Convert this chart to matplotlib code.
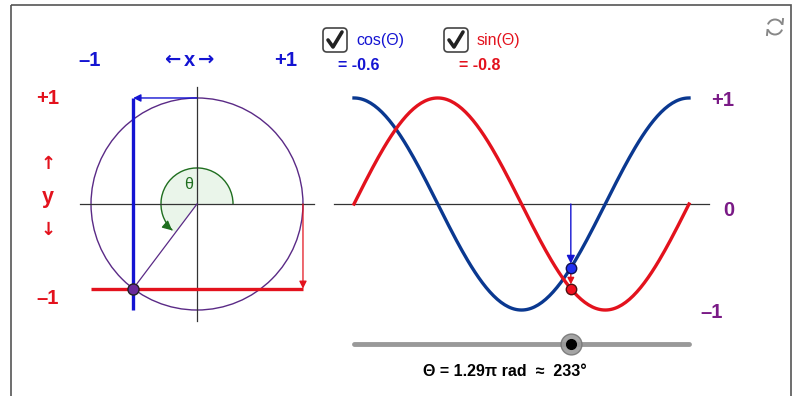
import numpy as np
import matplotlib
matplotlib.use("Agg")
import matplotlib.pyplot as plt
from matplotlib.patches import Circle, Wedge, Arc, FancyBboxPatch, Rectangle

plt.rcParams['font.family'] = ['Liberation Sans', 'DejaVu Sans']

# angle shown by the slider (degrees)
theta_deg = 233
# sample angles for the two curves, one full turn
curve_deg = np.arange(0, 361, 2)
cos_vals = np.cos(np.radians(curve_deg))
sin_vals = np.sin(np.radians(curve_deg))

c = np.cos(np.radians(theta_deg))
s = np.sin(np.radians(theta_deg))

# colours
BLUE = '#1414d2'
NAVY = '#0a3890'
RED = '#e3121d'
PURPLE = '#7a1a86'
CIRC = '#5a2a86'
GREEN = '#1f6e1f'

fig = plt.figure(figsize=(8, 3.96), dpi=100)

# background axes in pixel units (frame, checkboxes, labels)
bg = fig.add_axes([0, 0, 1, 1])
bg.set_xlim(0, 800)
bg.set_ylim(396, 0)
bg.axis('off')
bg.add_patch(Rectangle((11, 5), 780, 400, fill=False, edgecolor='#555555', lw=1.2))

# left: unit circle, 106 px per unit, centre at (197, 204)
ax1 = fig.add_axes([11/800, 0, 319/800, 391/396])
ax1.set_xlim(-1.755, 1.255)
ax1.set_ylim(-1.811, 1.877)
ax1.axis('off')
ax1.patch.set_alpha(0)

ext = 1.1
ax1.plot([-ext, ext], [0, 0], color='#333333', lw=0.9)
ax1.plot([0, 0], [-ext, ext], color='#333333', lw=0.9)
ax1.add_patch(Circle((0, 0), 1, fill=False, edgecolor=CIRC, lw=1.0))

# angle marker
r_arc = 0.34
ax1.add_patch(Wedge((0, 0), r_arc, 0, theta_deg, facecolor='#eaf5ea', edgecolor='none'))
ax1.add_patch(Arc((0, 0), 2*r_arc, 2*r_arc, theta1=0, theta2=theta_deg - 6, color=GREEN, lw=1.0))
a0 = np.radians(theta_deg - 14)
a1 = np.radians(theta_deg - 2)
ax1.annotate('', xy=(r_arc*np.cos(a1), r_arc*np.sin(a1)), xytext=(r_arc*np.cos(a0), r_arc*np.sin(a0)),
             arrowprops=dict(arrowstyle='-|>', color=GREEN, lw=1.0, mutation_scale=14,
                             connectionstyle='arc3,rad=0.12'))
ax1.text(-0.075, 0.18, 'θ', color=GREEN, fontsize=11.5, ha='center', va='center')

ax1.plot([0, c], [0, s], color=CIRC, lw=0.9)
ax1.plot([c, c], [-1, 1], color=BLUE, lw=2.4, solid_capstyle='butt')
ax1.annotate('', xy=(c, 1), xytext=(0, 1),
             arrowprops=dict(arrowstyle='-|>', color=BLUE, lw=1.0, mutation_scale=11, shrinkA=0, shrinkB=0))
ax1.plot([-1, 1], [s, s], color=RED, lw=2.4, solid_capstyle='butt')
ax1.annotate('', xy=(1, s), xytext=(1, 0),
             arrowprops=dict(arrowstyle='-|>', color=RED, lw=0.9, mutation_scale=11, shrinkA=0, shrinkB=0))
ax1.plot([c], [s], 'o', color='#6a2a9a', markeredgecolor='#222222', markersize=8, zorder=5)

# right: curves, x in degrees
ax2 = fig.add_axes([330/800, 0, 461/800, 391/396])
ax2.set_xlim(-25.79, 469.6)
ax2.set_ylim(-1.811, 1.877)
ax2.axis('off')
ax2.patch.set_alpha(0)

ax2.plot([-21.5, 382], [0, 0], color='#333333', lw=0.9)
ax2.plot(curve_deg, cos_vals, color=NAVY, lw=2.4)
ax2.plot(curve_deg, sin_vals, color=RED, lw=2.4)
ax2.annotate('', xy=(theta_deg, c), xytext=(theta_deg, 0),
             arrowprops=dict(arrowstyle='-|>', color=BLUE, lw=1.0, mutation_scale=12, shrinkA=0, shrinkB=3))
ax2.annotate('', xy=(theta_deg, s), xytext=(theta_deg, c),
             arrowprops=dict(arrowstyle='-|>', color=RED, lw=1.0, mutation_scale=10, shrinkA=3, shrinkB=3))
ax2.plot([theta_deg], [c], 'o', color='#2030f0', markeredgecolor='#101050', markersize=7.5, zorder=5)
ax2.plot([theta_deg], [s], 'o', color='#f01020', markeredgecolor='#501010', markersize=7.5, zorder=5)

# slider
slider_y = -1.321
ax2.plot([0, 360], [slider_y, slider_y], color='#999999', lw=3.5, solid_capstyle='round')
ax2.plot([theta_deg], [slider_y], 'o', color='#9a9a9a', markeredgecolor='#777777', markersize=15, alpha=0.9)
ax2.plot([theta_deg], [slider_y], 'o', color='black', markersize=7)

# labels (pixel positions)
bold = dict(fontweight='bold', ha='center', va='center')
arrows = dict(family=['DejaVu Sans'], fontweight='bold', ha='center', va='center')
bg.text(90, 60, '–1', color=BLUE, fontsize=14.5, **bold)
bg.text(189, 60, 'x', color=BLUE, fontsize=14.5, **bold)
bg.text(172, 59, '←', color=BLUE, fontsize=14, **arrows)
bg.text(206, 59, '→', color=BLUE, fontsize=14, **arrows)
bg.text(286, 60, '+1', color=BLUE, fontsize=14.5, **bold)
bg.text(48, 99, '+1', color=RED, fontsize=14.5, **bold)
bg.text(48, 164, '↑', color=RED, fontsize=13, **arrows)
bg.text(48, 198, 'y', color=RED, fontsize=15.5, **bold)
bg.text(48, 230, '↓', color=RED, fontsize=13, **arrows)
bg.text(48, 298, '–1', color=RED, fontsize=14.5, **bold)

bg.text(723, 100, '+1', color=PURPLE, fontsize=14.5, **bold)
bg.text(729, 211, '0', color=PURPLE, fontsize=14.5, **bold)
bg.text(712, 312, '–1', color=PURPLE, fontsize=14.5, **bold)

bg.text(505, 372, 'Θ = %.2fπ rad  ≈  %d°' % (theta_deg / 180, theta_deg),
        color='black', fontsize=11.5, **bold)

# checkboxes
for bx, label, col, vx, val in [(323, 'cos(Θ)', BLUE, 359, c), (444, 'sin(Θ)', RED, 480, s)]:
    bg.add_patch(FancyBboxPatch((bx, 28), 24, 24, boxstyle='round,pad=0,rounding_size=4',
                                facecolor='white', edgecolor='#444444', lw=1.2))
    bg.plot([bx + 5, bx + 10, bx + 19], [40, 47, 32], color='#222222', lw=2.6,
            solid_capstyle='round', solid_joinstyle='round')
    bg.text(bx + 33, 41, label, color=col, fontsize=11.5, ha='left', va='center')
    bg.text(vx, 66, '= %.1f' % val, color=col, fontsize=11.5, **bold)

# refresh icon
bg.add_patch(Arc((775, 27), 15, 15, theta1=200, theta2=340, color='#888888', lw=1.4))
bg.add_patch(Arc((775, 27), 15, 15, theta1=20, theta2=160, color='#888888', lw=1.4))
bg.plot([782.5, 783], [24, 19], color='#888888', lw=1.4)
bg.plot([767.5, 767], [30, 35], color='#888888', lw=1.4)

fig.savefig('out.png', dpi=100)
